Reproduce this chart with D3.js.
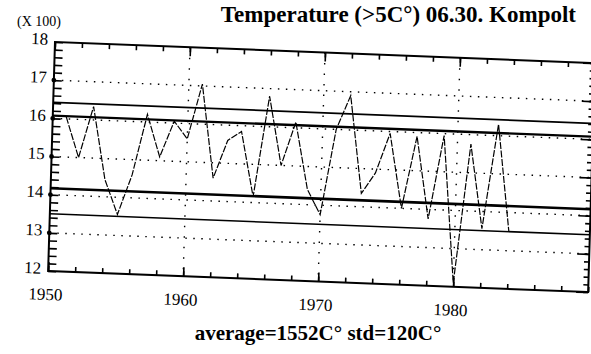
<!DOCTYPE html>
<html>
<head>
<meta charset="utf-8">
<script src="https://cdn.jsdelivr.net/npm/d3@7"></script>
<style>
  html, body { margin: 0; padding: 0; background: #fff; }
  svg { display: block; font-family: "Liberation Serif", "DejaVu Serif", serif; }
</style>
</head>
<body>
<div id="chart"></div>
<script>
// yearly values, in units of 100 C°
const years = [1951, 1952, 1953, 1954, 1955, 1956, 1957, 1958, 1959, 1960,
               1961, 1962, 1963, 1964, 1965, 1966, 1967, 1968, 1969, 1970,
               1971, 1972, 1973, 1974, 1975, 1976, 1977, 1978, 1979, 1980,
               1981, 1982, 1983, 1984];
const values = [16.05, 15.0, 16.35, 14.45, 13.55, 14.6, 16.2, 15.1, 16.05, 15.6,
                17.05, 14.6, 15.6, 15.85, 14.15, 16.8, 15.0, 16.15, 14.4, 13.75,
                16.0, 16.9, 14.35, 14.9, 15.95, 14.0, 15.9, 13.75, 15.95, 12.1,
                15.75, 13.55, 16.3, 13.5];
// horizontal reference lines
const refLevels = [16.42, 16.07, 14.17, 13.5];
const yTickLabels = [12, 13, 14, 15, 16, 17, 18];
const xTickLabels = [1950, 1960, 1970, 1980];
const gridY = [13, 14, 15, 16, 17];
const gridX = [1960, 1970, 1980];
const titleText = "Temperature (>5C°) 06.30. Kompolt";
const footText = "average=1552C° std=120C°";

const width = 591, height = 354;
const W = 540, H = 229;

const svg = d3.select("#chart").append("svg")
  .attr("width", width)
  .attr("height", height);

svg.append("rect").attr("width", width).attr("height", height).attr("fill", "#fff");

// scanned page is slightly tilted, so the plot sits in a skewed group
const g = svg.append("g")
  .attr("transform", "matrix(1,0.039,-0.03,1,55,42)");

const x = d3.scaleLinear().domain([1950, 1990]).range([0, W]);
const y = d3.scaleLinear().domain([12, 18]).range([H, 0]);

// dotted grid
g.selectAll(".gy").data(gridY).enter().append("line")
  .attr("x1", 0).attr("x2", W)
  .attr("y1", d => y(d)).attr("y2", d => y(d))
  .attr("stroke", "#000").attr("stroke-width", 1.4)
  .attr("stroke-dasharray", "1.5,6.5");
g.selectAll(".gx").data(gridX).enter().append("line")
  .attr("x1", d => x(d)).attr("x2", d => x(d))
  .attr("y1", 0).attr("y2", H)
  .attr("stroke", "#000").attr("stroke-width", 1.4)
  .attr("stroke-dasharray", "1.5,9");

// minor / major ticks, all pointing inward
function ticks(axis, tr, vals, size) {
  const a = g.append("g").attr("transform", tr)
    .call(axis.tickValues(vals).tickSize(size).tickFormat(""));
  a.select(".domain").remove();
  a.selectAll("line").attr("stroke", "#000").attr("stroke-width", 1.6);
}
const yMinor = d3.range(12, 18.001, 0.2);
const xMinor = d3.range(1950, 1990.001, 2);
ticks(d3.axisRight(y), "translate(0,0)", yMinor, 8);
ticks(d3.axisLeft(y), `translate(${W},0)`, yMinor, 5);
ticks(d3.axisLeft(y), `translate(${W},0)`, yTickLabels, 12);
ticks(d3.axisBottom(x), "translate(0,0)", xMinor, 5);
ticks(d3.axisBottom(x), "translate(0,0)", xTickLabels, 9);
ticks(d3.axisTop(x), `translate(0,${H})`, xMinor, 5);
ticks(d3.axisTop(x), `translate(0,${H})`, xTickLabels, 9);

// frame
g.append("path")
  .attr("d", `M0,0H${W}V${H}H0Z`)
  .attr("fill", "none").attr("stroke", "#000").attr("stroke-width", 2);

// dots on the left axis at whole values
g.selectAll(".dot").data(gridY).enter().append("circle")
  .attr("cx", 0).attr("cy", d => y(d)).attr("r", 2.4).attr("fill", "#000");

// reference lines
const refW = [1.7, 2.3, 2.6, 1.6];
g.selectAll(".ref").data(refLevels).enter().append("line")
  .attr("x1", 0).attr("x2", W)
  .attr("y1", d => y(d)).attr("y2", d => y(d))
  .attr("stroke", "#000")
  .attr("stroke-width", (d, i) => refW[i]);

// series
const line = d3.line()
  .x((d, i) => x(years[i]))
  .y(d => y(d));
g.append("path")
  .datum(values)
  .attr("d", line)
  .attr("fill", "none")
  .attr("stroke", "#000")
  .attr("stroke-width", 1.2)
  .attr("stroke-dasharray", "7,1.5");

// tick labels
g.selectAll(".yl").data(yTickLabels).enter().append("text")
  .attr("x", -7).attr("y", d => y(d) + 3)
  .attr("text-anchor", "end")
  .attr("font-size", 17)
  .text(d => d);
g.selectAll(".xl").data(xTickLabels).enter().append("text")
  .attr("x", d => x(d) - 2).attr("y", H + 29)
  .attr("text-anchor", "middle")
  .attr("font-size", 17)
  .text(d => d);

// texts
svg.append("text")
  .attr("x", 17).attr("y", 26)
  .attr("font-size", 14)
  .text("(X 100)");

svg.append("text")
  .attr("x", 576).attr("y", 22)
  .attr("text-anchor", "end")
  .attr("font-size", 23)
  .attr("font-weight", "bold")
  .text(titleText);

svg.append("text")
  .attr("x", 318).attr("y", 340)
  .attr("text-anchor", "middle")
  .attr("font-size", 21)
  .attr("font-weight", "bold")
  .text(footText);
</script>
</body>
</html>
